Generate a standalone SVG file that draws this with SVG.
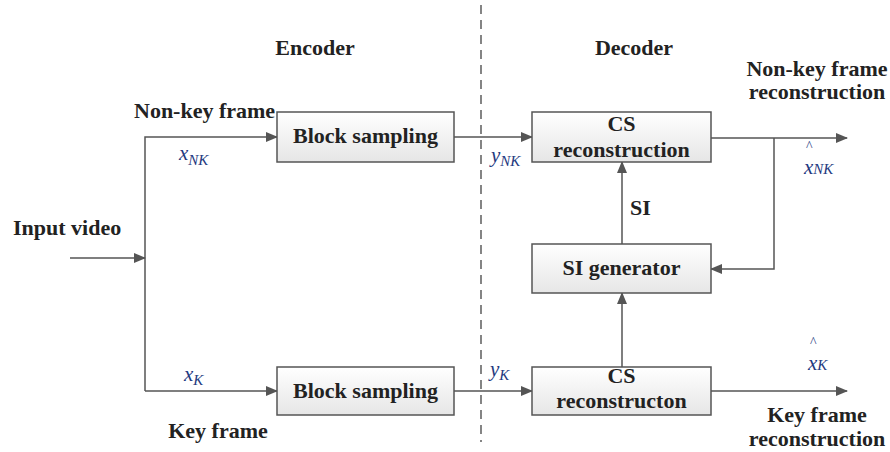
<svg xmlns="http://www.w3.org/2000/svg" width="890" height="452" viewBox="0 0 890 452">
<style>
.t{font-family:"Liberation Serif","Times New Roman",serif;font-weight:bold;font-size:22px;fill:#222}
.m{font-family:"Liberation Serif","Times New Roman",serif;font-style:italic;font-size:21px;fill:#1f3a80}
.s{font-size:15px}
.h{font-style:normal;font-size:14px}
.box{fill:url(#g);stroke:#555;stroke-width:1.5}
.ln{fill:none;stroke:#555;stroke-width:1.5}
</style>
<defs>
<linearGradient id="g" x1="0" y1="0" x2="0" y2="1"><stop offset="0" stop-color="#ffffff"/><stop offset="1" stop-color="#e6e6e6"/></linearGradient>
<marker id="a" markerWidth="12" markerHeight="10" refX="11" refY="5" orient="auto" markerUnits="userSpaceOnUse"><path d="M0,0 L12,5 L0,10 Z" fill="#555"/></marker>
</defs>
<rect width="890" height="452" fill="#fff"/>
<g id="connectors">
<line x1="481" y1="5" x2="481" y2="442" stroke="#444" stroke-width="1.3" stroke-dasharray="9,6"/>
<path class="ln" d="M70,258 H145" marker-end="url(#a)"/>
<path class="ln" d="M145,391 V137 H277" marker-end="url(#a)"/>
<path class="ln" d="M145,391 H277" marker-end="url(#a)"/>
<path class="ln" d="M454,137 H532" marker-end="url(#a)"/>
<path class="ln" d="M454,391 H532" marker-end="url(#a)"/>
<path class="ln" d="M711,138 H847" marker-end="url(#a)"/>
<path class="ln" d="M774,138 V269 H711" marker-end="url(#a)"/>
<path class="ln" d="M622,244 V162" marker-end="url(#a)"/>
<path class="ln" d="M622,367 V293" marker-end="url(#a)"/>
<path class="ln" d="M711,391 H847" marker-end="url(#a)"/>
</g>
<g id="bs1"><rect class="box" x="277" y="112" width="177" height="50"/><text class="t" x="365.5" y="143" text-anchor="middle">Block sampling</text></g>
<g id="bs2"><rect class="box" x="277" y="367" width="177" height="48"/><text class="t" x="365.5" y="398" text-anchor="middle">Block sampling</text></g>
<g id="cs1"><rect class="box" x="532" y="112" width="179" height="50"/><text class="t" x="621.5" y="131" text-anchor="middle">CS</text><text class="t" x="621.5" y="157" text-anchor="middle">reconstruction</text></g>
<g id="sig"><rect class="box" x="532" y="244" width="179" height="49"/><text class="t" x="621.5" y="275" text-anchor="middle">SI generator</text></g>
<g id="cs2"><rect class="box" x="532" y="367" width="179" height="48"/><text class="t" x="621.5" y="383" text-anchor="middle">CS</text><text class="t" x="621.5" y="408" text-anchor="middle">reconstructon</text></g>
<g id="labels">
<text class="t" x="315" y="55" text-anchor="middle">Encoder</text>
<text class="t" x="634" y="55" text-anchor="middle">Decoder</text>
<text class="t" x="134" y="118">Non-key frame</text>
<text class="t" x="13" y="235">Input video</text>
<text class="t" x="218" y="438" text-anchor="middle">Key frame</text>
<text class="t" x="630" y="215">SI</text>
<text class="t" x="817" y="76" text-anchor="middle">Non-key frame</text>
<text class="t" x="817" y="99" text-anchor="middle">reconstruction</text>
<text class="t" x="817" y="422" text-anchor="middle">Key frame</text>
<text class="t" x="817" y="446" text-anchor="middle">reconstruction</text>
<text class="m" x="179" y="160">x<tspan class="s" dy="5">NK</tspan></text>
<text class="m" x="184" y="381">x<tspan class="s" dy="4">K</tspan></text>
<text class="m" x="491" y="162">y<tspan class="s" dy="4">NK</tspan></text>
<text class="m" x="490" y="376">y<tspan class="s" dy="4">K</tspan></text>
<text class="m"><tspan class="h" x="806" y="151">^</tspan><tspan x="804" y="174">x</tspan><tspan class="s">NK</tspan></text>
<text class="m"><tspan class="h" x="810" y="347">^</tspan><tspan x="808" y="370">x</tspan><tspan class="s">K</tspan></text>
</g>
</svg>
